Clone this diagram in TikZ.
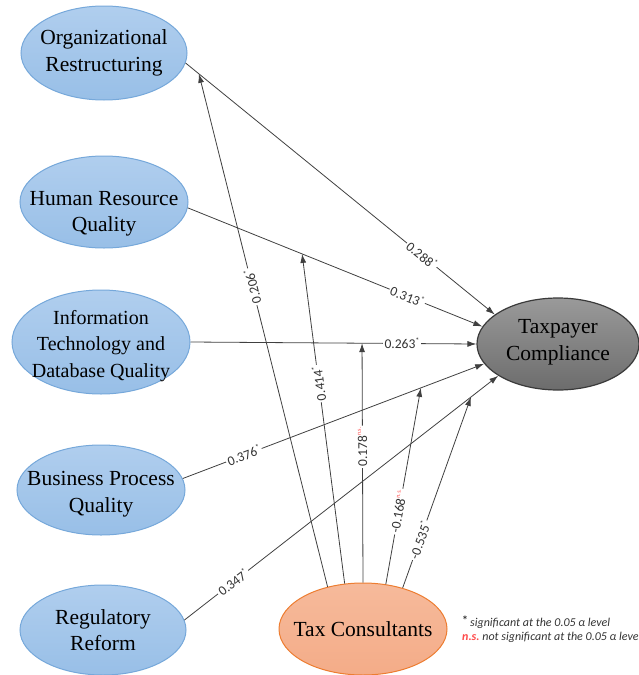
\documentclass[tikz,border=0pt]{standalone}
\usepackage{fontspec}
\setmainfont{Liberation Serif}
\newfontfamily\nodefont{Liberation Serif}
\newfontfamily\lblfont{Carlito}
\usetikzlibrary{shapes.geometric,arrows.meta}
\definecolor{bluefillA}{HTML}{B0CEEE}
\definecolor{bluefillB}{HTML}{98BFE7}
\definecolor{blueline}{HTML}{76A8DA}
\definecolor{grayA}{HTML}{9A9A9A}
\definecolor{grayB}{HTML}{6C6C6C}
\definecolor{grayline}{HTML}{3A3A3A}
\definecolor{orangeA}{HTML}{F6BA9B}
\definecolor{orangeB}{HTML}{F4AC88}
\definecolor{orangeline}{HTML}{ED7D31}
\definecolor{edgecol}{HTML}{404040}
\definecolor{txtcol}{HTML}{333333}
\definecolor{nsred}{HTML}{FF4B4B}
\newcommand\sigmark{\raisebox{5pt}{\fontsize{8}{8}\selectfont *}}
\newcommand\nsmark{\raisebox{6pt}{\fontsize{6}{6}\selectfont\textcolor{nsred}{n.s.}}}
\begin{document}
\begin{tikzpicture}[x=1pt,y=-1pt,
  construct/.style={ellipse, draw=blueline, line width=1pt, top color=bluefillA, bottom color=bluefillB, inner sep=0pt},
  nodetext/.style={align=center, font=\nodefont\fontsize{21.5}{26.5}\selectfont, text=black},
  smalltext/.style={align=center, font=\nodefont\fontsize{20}{26.5}\selectfont, text=black},
  depbox/.style={ellipse, draw=grayline, line width=1.2pt, top color=grayA, bottom color=grayB, inner sep=0pt},
  modbox/.style={ellipse, draw=orangeline, line width=1pt, top color=orangeA, bottom color=orangeB, inner sep=0pt},
  link/.style={draw=edgecol, line width=0.8pt, -{Latex[length=9pt,width=6pt]}},
  coef/.style={sloped, fill=white, inner sep=1.5pt, text=txtcol, font=\lblfont\fontsize{13.5}{14}\selectfont},
  upcoef/.style={coef, allow upside down},
  legend/.style={anchor=base west, inner sep=0pt, text=txtcol, font=\lblfont\fontsize{12}{13}\selectfont}
]
\useasboundingbox (0,0) rectangle (639,675);

\node[construct, minimum width=166pt, minimum height=94pt,
  label={[nodetext]center:Organizational\\Restructuring}] (or) at (104,53) {};
\node[construct, minimum width=168pt, minimum height=92pt,
  label={[nodetext, yshift=-12pt]center:Human Resource\\Quality}] (hrq) at (104,202) {};
\node[construct, minimum width=178pt, minimum height=104pt,
  label={[smalltext, yshift=-4pt]center:Information\\Technology and\\Database Quality}] (itdq) at (101,342) {};
\node[construct, minimum width=168pt, minimum height=90pt,
  label={[nodetext, yshift=-4pt]center:Business Process\\Quality}] (bpq) at (101,490) {};
\node[construct, minimum width=166pt, minimum height=90pt,
  label={[nodetext]center:Regulatory\\Reform}] (rr) at (103,630) {};
\node[depbox, minimum width=162pt, minimum height=92pt,
  label={[nodetext, yshift=2pt]center:Taxpayer\\Compliance}] (tpc) at (558,344) {};
\node[modbox, minimum width=168pt, minimum height=92pt,
  label={[nodetext]center:Tax Consultants}] (tcons) at (363,629) {};

% direct paths
\draw[link] (or.-7) -- coordinate[pos=0.043] (m1) (tpc.155)
  node[coef, pos=0.764] {0.288\sigmark};
\draw[link] (hrq.-4) -- coordinate[pos=0.388] (m2) (tpc.167)
  node[coef, pos=0.745] {0.313\sigmark};
\draw[link] (itdq.east) -- coordinate[pos=0.60] (m3) (tpc.west)
  node[coef, pos=0.74] {0.263\sigmark};
\draw[link] (bpq.8) -- coordinate[pos=0.79] (m4) (tpc.195)
  node[coef, pos=0.203] {0.376\sigmark};
\draw[link] (rr.7) -- coordinate[pos=0.913] (m5) (tpc.208)
  node[coef, pos=0.155] {0.347\sigmark};

% moderating paths
\draw[link] (tcons.130) -- (m1) node[upcoef, pos=0.585] {0.206\sigmark};
\draw[link] (tcons.112) -- (m2) node[upcoef, pos=0.607] {0.414\sigmark};
\draw[link] (tcons.90) -- (m3) node[upcoef, pos=0.567] {0.178\nsmark};
\draw[link] (tcons.63) -- (m4) node[upcoef, pos=0.37] {-0.168\nsmark};
\draw[link] (tcons.46) -- (m5) node[upcoef, pos=0.25] {-0.535\sigmark};

% legend
\node[legend] (leg1) at (462,626) {\raisebox{2pt}{\textbf{*}}\,\textit{significant at the 0.05 α level}};
\node[legend] (leg2) at (462,640) {\textcolor{nsred}{\textbf{\textit{n.s.}}}\ \textit{not significant at the 0.05 α level}};
\end{tikzpicture}
\end{document}
